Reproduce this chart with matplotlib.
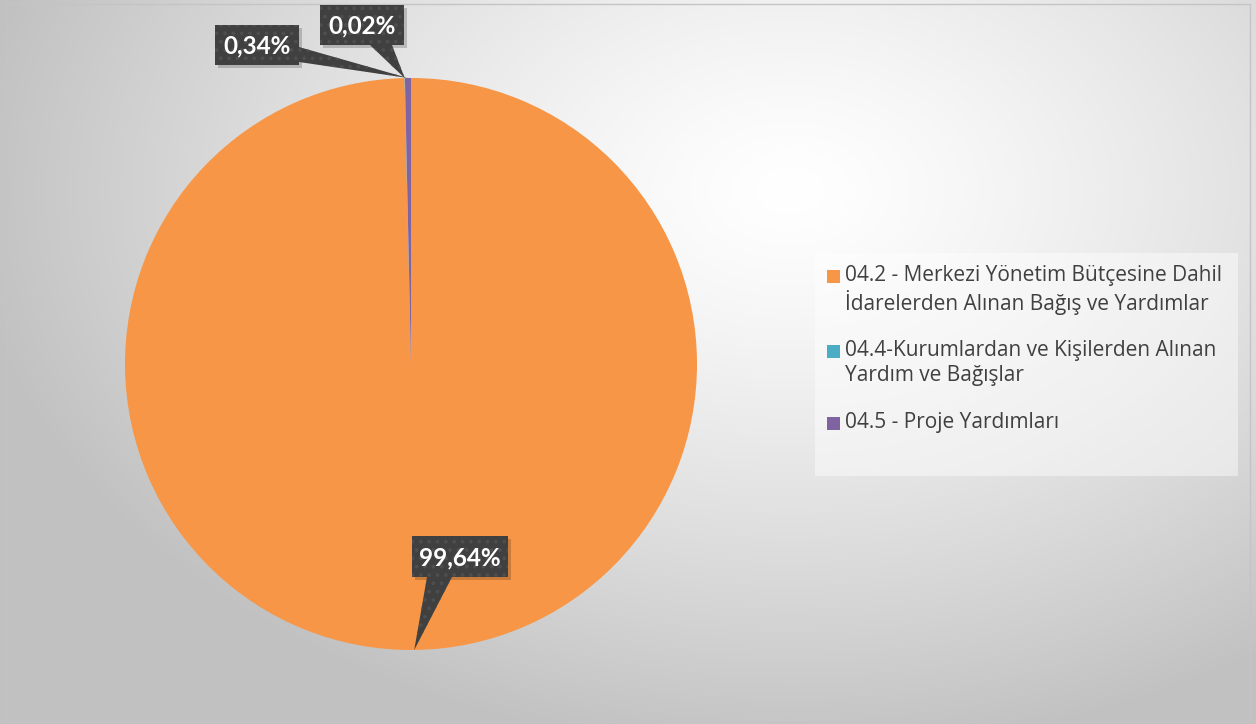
import numpy as np
import matplotlib.pyplot as plt
from matplotlib.patches import Rectangle, Polygon

labels = [
    "04.2 - Merkezi Yönetim Bütçesine Dahil\nİdarelerden Alınan Bağış ve Yardımlar",
    "04.4-Kurumlardan ve Kişilerden Alınan\nYardım ve Bağışlar",
    "04.5 - Proje Yardımları",
]
values = [99.64, 0.02, 0.34]
pct_text = ["99,64%", "0,02%", "0,34%"]
colors = ["#f79646", "#4bacc6", "#8064a2"]

W, H = 1256, 724


def py(y):
    # pixel row (from top) -> data y
    return H - y


def main():
    plt.rcParams["hatch.linewidth"] = 1.5
    fig = plt.figure(figsize=(W / 100, H / 100), dpi=100)
    ax = fig.add_axes([0, 0, 1, 1])

    # radial grey background
    xx, yy = np.meshgrid(np.arange(W), np.arange(H))
    t = np.sqrt(((xx - 790) / 820.0) ** 2 + ((yy - 190) / 560.0) ** 2)
    t = np.clip(t, 0, 1)
    g = 1.0 - 0.24 * t ** 1.3
    bg = np.dstack([g, g, g])
    ax.imshow(bg, extent=(0, W, 0, H), origin="upper", zorder=0, aspect="auto")

    cx, cy, r = 411, py(364), 286
    wedges, _ = ax.pie(values, colors=colors, startangle=90, counterclock=False,
                       center=(cx, cy), radius=r,
                       wedgeprops=dict(linewidth=0, zorder=2))
    for w in wedges:
        w.set_zorder(2)

    # data label callouts: box (x0, y0, x1, y1 in px from top), pointer base
    boxes = [(412, 536, 508, 577), (320, 5, 404, 45), (215, 25, 299, 65)]
    bases = [[(427, 577), (452, 577)],
             [(370, 45), (392, 45)],
             [(299, 47), (299, 62)]]
    for i, w in enumerate(wedges):
        mid = np.deg2rad((w.theta1 + w.theta2) / 2)
        tip = (cx + r * np.cos(mid), cy + r * np.sin(mid))
        x0, y0, x1, y1 = boxes[i]
        # shadow
        ax.add_patch(Rectangle((x0 + 3, py(y1) - 3), x1 - x0, y1 - y0,
                               facecolor="black", alpha=0.18, lw=0, zorder=3))
        ax.add_patch(Rectangle((x0, py(y1)), x1 - x0, y1 - y0,
                               facecolor="#404040", edgecolor="#4e4e4e",
                               hatch="..", lw=0, zorder=4))
        b = bases[i]
        ax.add_patch(Polygon([(b[0][0], py(b[0][1])), (b[1][0], py(b[1][1])), tip],
                             closed=True, facecolor="#404040", edgecolor="#4e4e4e",
                             hatch="..", lw=0, zorder=4))
        ax.text((x0 + x1) / 2, py((y0 + y1) / 2 + 1), pct_text[i], color="white",
                fontsize=17.5, fontweight="bold", family="Lato",
                ha="center", va="center", zorder=5)

    # legend
    ax.add_patch(Rectangle((815, py(476)), 423, 223, facecolor="white",
                           alpha=0.45, lw=0, zorder=1))
    rows = [276, 351, 423]
    for i, lab in enumerate(labels):
        ax.add_patch(Rectangle((827, py(rows[i]) - 6.5), 13, 13,
                               facecolor=colors[i], lw=0, zorder=3))
        ax.text(845, py(rows[i] - 11), lab, fontsize=15, family="Open Sans",
                color="#404040", ha="left", va="top", linespacing=1.22, zorder=3)

    # frame
    ax.add_patch(Rectangle((6, 2), W - 12, H - 6, facecolor="none",
                           edgecolor="#c4c4c4", lw=1, zorder=1))

    ax.set_xlim(0, W)
    ax.set_ylim(0, H)
    ax.set_aspect("auto")
    ax.axis("off")
    fig.savefig("out.png", dpi=100)


if __name__ == "__main__":
    main()
